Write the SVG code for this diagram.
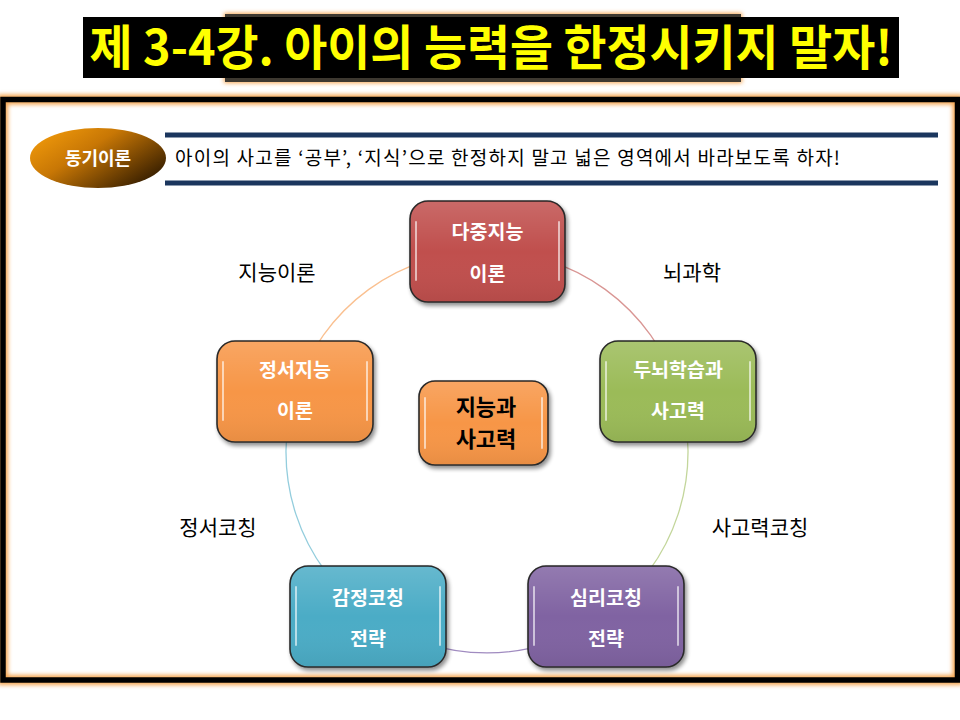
<svg xmlns="http://www.w3.org/2000/svg" width="960" height="720" viewBox="0 0 960 720">
  <defs>
    <filter id="glow" x="-10%" y="-10%" width="120%" height="120%">
      <feGaussianBlur stdDeviation="2"/>
    </filter>
    <filter id="shadow" x="-10%" y="-10%" width="130%" height="130%">
      <feGaussianBlur in="SourceAlpha" stdDeviation="2"/>
      <feOffset dx="2" dy="3" result="b"/>
      <feComponentTransfer><feFuncA type="linear" slope="0.45"/></feComponentTransfer>
      <feMerge><feMergeNode/><feMergeNode in="SourceGraphic"/></feMerge>
    </filter>
    <linearGradient id="ellGrad" x1="0" y1="0" x2="1" y2="0.7">
      <stop offset="0" stop-color="#F9A10C"/>
      <stop offset="0.45" stop-color="#C87705"/>
      <stop offset="1" stop-color="#3A2000"/>
    </linearGradient>
    <linearGradient id="gloss" x1="0" y1="0" x2="0" y2="1">
      <stop offset="0" stop-color="#fff" stop-opacity="0.15"/>
      <stop offset="0.5" stop-color="#fff" stop-opacity="0"/>
      <stop offset="1" stop-color="#000" stop-opacity="0.06"/>
    </linearGradient>
    <style>
      .box { stroke: #2a2a2a; stroke-width: 1.6; }
      .hl { fill: none; stroke: #fff; stroke-opacity: 0.6; stroke-width: 2; stroke-linecap: round; }
      .lbl { font-family: "Noto Sans CJK KR", "Noto Sans", sans-serif; font-weight: bold; font-size: 19.5px; fill: #fff; text-anchor: middle; }
      .edge { font-family: "Noto Sans CJK KR", "Noto Sans", sans-serif; font-size: 21px; fill: #000; text-anchor: middle; }
      .arc { fill: none; stroke-width: 1.3; }
      .ctr { font-family: "Noto Sans CJK KR", "Noto Sans", sans-serif; font-weight: bold; font-size: 22px; fill: #000; text-anchor: middle; }
    </style>
  </defs>

  <rect width="960" height="720" fill="#fff"/>

  <!-- frame -->
  <g id="frame">
    <rect x="3" y="99.5" width="954.5" height="580.5" fill="none" stroke="#F5A550" stroke-width="10" filter="url(#glow)"/>
    <rect x="3" y="99.5" width="954.5" height="580.5" fill="none" stroke="#000" stroke-width="5.5"/>
  </g>

  <!-- title -->
  <g id="title">
    <rect x="224" y="13" width="518" height="70" fill="#F5A550" filter="url(#glow)"/>
    <rect x="225" y="14" width="516" height="68" fill="#3d3830"/>
    <rect x="83" y="17" width="816" height="61" fill="#000"/>
    <text x="491" y="65" font-family="Noto Sans CJK KR, Noto Sans, sans-serif" font-weight="bold" font-size="48" fill="#FFFF00" text-anchor="middle" textLength="803" lengthAdjust="spacingAndGlyphs">제 3-4강. 아이의 능력을 한정시키지 말자!</text>
  </g>

  <!-- subtitle -->
  <g id="subtitle">
    <rect x="165" y="132.5" width="773" height="5" fill="#1B365E"/>
    <rect x="165" y="180.5" width="773" height="5" fill="#1B365E"/>
    <ellipse cx="98" cy="158" rx="68" ry="30" fill="url(#ellGrad)"/>
    <text x="98" y="164.5" font-family="Noto Sans CJK KR, Noto Sans, sans-serif" font-weight="bold" font-size="18" fill="#fff" text-anchor="middle">동기이론</text>
    <text x="175" y="165" font-family="Noto Sans CJK KR, Noto Sans, sans-serif" font-size="19" fill="#000" textLength="665" lengthAdjust="spacing">아이의 사고를 ‘공부’, ‘지식’으로 한정하지 말고 넓은 영역에서 바라보도록 하자!</text>
  </g>

  <!-- connectors -->
  <g id="connectors">
    <path class="arc" stroke="#D99694" d="M487,251 A201,201 0 0,1 678.2,389.9"/>
    <path class="arc" stroke="#C3D69B" d="M678.2,389.9 A201,201 0 0,1 605.1,614.6"/>
    <path class="arc" stroke="#A08BC0" d="M605.1,614.6 A201,201 0 0,1 368.9,614.6"/>
    <path class="arc" stroke="#93CDDD" d="M368.9,614.6 A201,201 0 0,1 295.8,389.9"/>
    <path class="arc" stroke="#FAC090" d="M295.8,389.9 A201,201 0 0,1 487,251"/>
    <text class="edge" x="692" y="280">뇌과학</text>
    <text class="edge" x="277" y="280">지능이론</text>
    <text class="edge" x="760" y="535">사고력코칭</text>
    <text class="edge" x="218" y="535">정서코칭</text>
  </g>

  <!-- nodes -->
  <g id="node-top">
    <rect class="box" x="410" y="201" width="155" height="101" rx="18" fill="#C0504D" filter="url(#shadow)"/>
    <rect x="411" y="202" width="153" height="99" rx="17" fill="url(#gloss)"/>
    <path class="hl" d="M416,222 V280 M559,222 V280"/>
    <text class="lbl" x="487.5" y="239">다중지능</text>
    <text class="lbl" x="487.5" y="281">이론</text>
  </g>
  <g id="node-right">
    <rect class="box" x="600" y="341" width="156" height="101" rx="18" fill="#9BBB59" filter="url(#shadow)"/>
    <rect x="601" y="342" width="154" height="99" rx="17" fill="url(#gloss)"/>
    <path class="hl" d="M606,362 V420 M750,362 V420"/>
    <text class="lbl" x="678" y="377">두뇌학습과</text>
    <text class="lbl" x="678" y="418">사고력</text>
  </g>
  <g id="node-bottom-right">
    <rect class="box" x="528" y="566" width="156" height="101" rx="18" fill="#8064A2" filter="url(#shadow)"/>
    <rect x="529" y="567" width="154" height="99" rx="17" fill="url(#gloss)"/>
    <path class="hl" d="M534,587 V645 M678,587 V645"/>
    <text class="lbl" x="606" y="605">심리코칭</text>
    <text class="lbl" x="606" y="646">전략</text>
  </g>
  <g id="node-bottom-left">
    <rect class="box" x="290" y="566" width="156" height="101" rx="18" fill="#4BACC6" filter="url(#shadow)"/>
    <rect x="291" y="567" width="154" height="99" rx="17" fill="url(#gloss)"/>
    <path class="hl" d="M296,587 V645 M440,587 V645"/>
    <text class="lbl" x="368" y="605">감정코칭</text>
    <text class="lbl" x="368" y="646">전략</text>
  </g>
  <g id="node-left">
    <rect class="box" x="217" y="341" width="156" height="101" rx="18" fill="#F79646" filter="url(#shadow)"/>
    <rect x="218" y="342" width="154" height="99" rx="17" fill="url(#gloss)"/>
    <path class="hl" d="M223,362 V420 M367,362 V420"/>
    <text class="lbl" x="295" y="377">정서지능</text>
    <text class="lbl" x="295" y="418">이론</text>
  </g>
  <g id="node-center">
    <rect class="box" x="419" y="381" width="129" height="84" rx="16" fill="#F79646" filter="url(#shadow)"/>
    <rect x="420" y="382" width="127" height="82" rx="15" fill="url(#gloss)"/>
    <path class="hl" d="M425,398 V448 M542,398 V448"/>
    <text class="ctr" x="486" y="415">지능과</text>
    <text class="ctr" x="486" y="447">사고력</text>
  </g>
</svg>
